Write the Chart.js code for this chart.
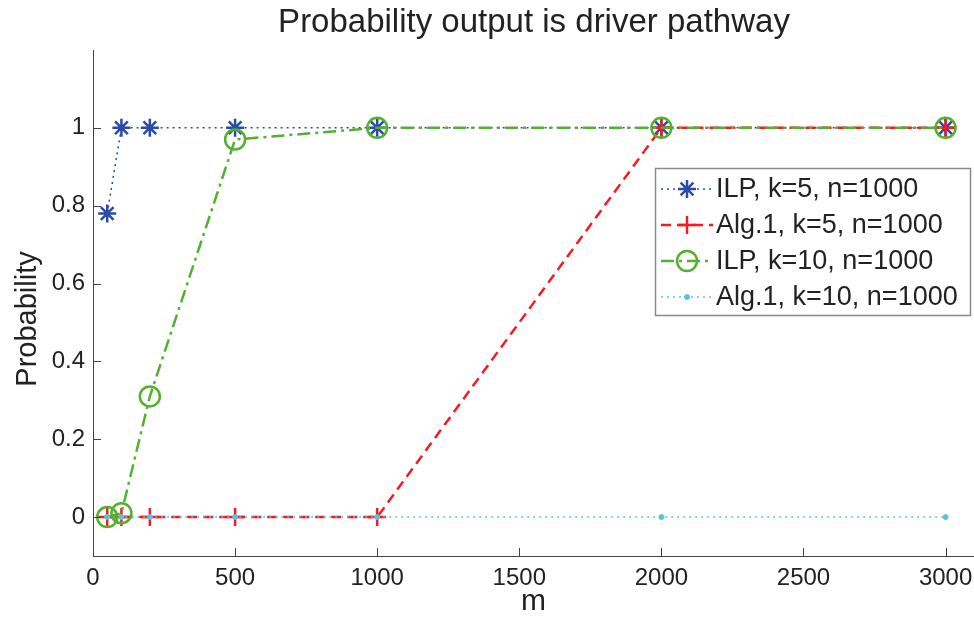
<!DOCTYPE html>
<html>
<head>
<meta charset="utf-8">
<script src="https://cdn.jsdelivr.net/npm/chart.js@4.4.0/dist/chart.umd.min.js"></script>
<style>
  body { margin: 0; background: #fff; }
  #wrap { width: 974px; height: 620px; }
</style>
</head>
<body>
<div id="wrap"><canvas id="myChart"></canvas></div>
<script>
// values
const mValues = [50, 100, 200, 500, 1000, 2000, 3000];
const ilpK5 = [0.78, 1, 1, 1, 1, 1, 1];
const algK5 = [0, 0, 0, 0, 0, 1, 1];
const ilpK10 = [0, 0.01, 0.31, 0.97, 1, 1, 1];
const algK10 = [0, 0, 0, 0, 0, 0, 0];
const seriesNames = ['ILP, k=5, n=1000', 'Alg.1, k=5, n=1000', 'ILP, k=10, n=1000', 'Alg.1, k=10, n=1000'];
const xTicks = [0, 500, 1000, 1500, 2000, 2500, 3000];
const yTicks = [0, 0.2, 0.4, 0.6, 0.8, 1];
const chartTitle = 'Probability output is driver pathway';
const yLabel = 'Probability';

const FONT = "'Liberation Sans', Helvetica, Arial, sans-serif";

function toPoints(ys) {
    return mValues.map((m, i) => ({x: m, y: ys[i]}));
}

const styles = [
    {color: '#2b4ba8', dash: [2, 4], width: 1.5, point: 'star', radius: 9, pw: 2.5},
    {color: '#f21c24', dash: [10, 6], width: 2.5, point: 'cross', radius: 9, pw: 2.5},
    {color: '#52b22e', dash: [13, 5, 3, 5], width: 2.5, point: 'circle', radius: 10, pw: 2.5},
    {color: '#55c4dd', dash: [2, 4], width: 1.5, point: 'circle', radius: 2.5, pw: 1, fill: true}
];
const seriesData = [ilpK5, algK5, ilpK10, algK10];

// inward tick marks + title texts placed like the matlab figure
const innerTicks = {
    id: 'innerTicks',
    afterDraw(chart) {
        const ctx = chart.ctx;
        const xs = chart.scales.x, ys = chart.scales.y;
        ctx.save();
        ctx.strokeStyle = '#444';
        ctx.lineWidth = 1;
        xTicks.forEach(v => {
            const px = Math.round(xs.getPixelForValue(v)) + 0.5;
            ctx.beginPath();
            ctx.moveTo(px, ys.bottom);
            ctx.lineTo(px, ys.bottom - 8);
            ctx.stroke();
        });
        yTicks.forEach(v => {
            const py = Math.round(ys.getPixelForValue(v)) + 0.5;
            ctx.beginPath();
            ctx.moveTo(xs.left, py);
            ctx.lineTo(xs.left + 8, py);
            ctx.stroke();
        });

        ctx.fillStyle = '#222';
        ctx.textAlign = 'center';
        ctx.textBaseline = 'middle';
        ctx.font = '33px ' + FONT;
        ctx.fillText(chartTitle, 534, 23);
        ctx.font = '29px ' + FONT;
        ctx.translate(28, 319);
        ctx.rotate(-Math.PI / 2);
        ctx.fillText(yLabel, 0, 0);
        ctx.restore();
    }
};

// legend box drawn by hand so it can show dash + marker
const boxLegend = {
    id: 'boxLegend',
    afterDraw(chart) {
        const ctx = chart.ctx;
        const x0 = 655, y0 = 168, w = 315, h = 147;
        ctx.save();
        ctx.fillStyle = '#fff';
        ctx.fillRect(x0, y0, w, h);
        ctx.strokeStyle = '#8a8a8a';
        ctx.lineWidth = 1.5;
        ctx.strokeRect(x0 + 0.5, y0 + 0.5, w, h);
        seriesNames.forEach((name, i) => {
            const s = styles[i];
            const cy = y0 + 21 + i * 36;
            ctx.strokeStyle = s.color;
            ctx.lineWidth = s.width;
            ctx.setLineDash(s.dash);
            ctx.beginPath();
            ctx.moveTo(x0 + 6, cy);
            ctx.lineTo(x0 + 58, cy);
            ctx.stroke();
            ctx.setLineDash([]);
            ctx.fillStyle = s.fill ? s.color : 'rgba(0,0,0,0)';
            ctx.lineWidth = s.pw;
            Chart.helpers.drawPoint(ctx, {pointStyle: s.point, radius: s.radius, borderWidth: s.pw, rotation: 0}, x0 + 32, cy);
            ctx.fillStyle = '#222';
            ctx.font = '27px ' + FONT;
            ctx.textBaseline = 'middle';
            ctx.fillText(name, x0 + 61, cy + 1);
        });
        ctx.restore();
    }
};

const config = {
    type: 'line',
    data: {
        datasets: seriesData.map((ys, i) => ({
            label: seriesNames[i],
            data: toPoints(ys),
            borderColor: styles[i].color,
            backgroundColor: styles[i].fill ? styles[i].color : 'rgba(0,0,0,0)',
            borderWidth: styles[i].width,
            borderDash: styles[i].dash,
            pointStyle: styles[i].point,
            pointRadius: styles[i].radius,
            pointBorderWidth: styles[i].pw,
            pointBorderColor: styles[i].color,
            pointBackgroundColor: styles[i].fill ? styles[i].color : 'rgba(0,0,0,0)',
            tension: 0,
            fill: false,
            clip: false,
            order: 3 - i
        }))
    },
    options: {
        responsive: true,
        maintainAspectRatio: false,
        animation: false,
        layout: {autoPadding: false, padding: {left: 0, right: 0, top: 50, bottom: 0}},
        scales: {
            x: {
                type: 'linear',
                min: 0,
                max: 3100,
                afterBuildTicks: scale => { scale.ticks = xTicks.map(v => ({value: v})); },
                afterFit: scale => {
                    scale.height = 64;
                    scale.paddingLeft = 0;
                    scale.paddingRight = 0;
                },
                grid: {display: false, drawTicks: false},
                border: {display: true, color: '#444', width: 1},
                ticks: {color: '#222', font: {family: FONT, size: 24}, padding: 8, maxRotation: 0,
                    callback: v => String(v)},
                title: {display: true, text: 'm', color: '#222', font: {family: FONT, size: 30}, padding: {top: -3, bottom: 0}}
            },
            y: {
                min: -0.1,
                max: 1.2,
                afterBuildTicks: scale => { scale.ticks = yTicks.map(v => ({value: v})); },
                afterFit: scale => { scale.width = 93; },
                grid: {display: false, drawTicks: false},
                border: {display: true, color: '#444', width: 1},
                ticks: {color: '#222', font: {family: FONT, size: 24}, padding: 8,
                    callback: v => String(Math.round(v * 10) / 10)},
                title: {display: false}
            }
        },
        plugins: {
            legend: {display: false},
            tooltip: {enabled: false},
            title: {display: false}
        }
    },
    plugins: [innerTicks, boxLegend]
};

const myChart = new Chart(document.getElementById('myChart'), config);
</script>
</body>
</html>
